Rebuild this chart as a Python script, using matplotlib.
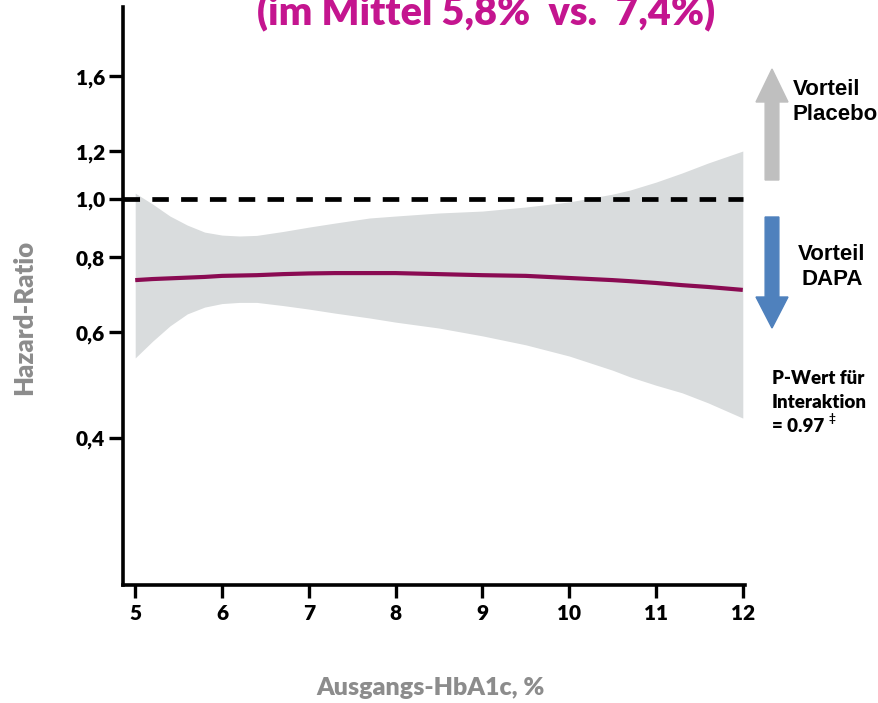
import matplotlib.pyplot as plt
from matplotlib.patches import FancyArrow

# HbA1c grid and hazard ratio curve with 95% CI band
hba1c = [5.0, 5.2, 5.4, 5.6, 5.8, 6.0, 6.2, 6.4, 6.7, 7.0, 7.3, 7.7, 8.0, 8.5,
         9.0, 9.5, 10.0, 10.5, 10.7, 11.0, 11.3, 11.6, 12.0]
hr = [0.733, 0.736, 0.738, 0.740, 0.742, 0.745, 0.746, 0.747, 0.750, 0.752, 0.753, 0.753,
      0.753, 0.750, 0.747, 0.745, 0.739, 0.733, 0.730, 0.725, 0.719, 0.714, 0.706]
ci_upper = [1.023, 0.981, 0.937, 0.905, 0.881, 0.871, 0.868, 0.870, 0.883, 0.898, 0.912, 0.930,
            0.937, 0.948, 0.955, 0.970, 0.989, 1.019, 1.035, 1.067, 1.105, 1.148, 1.202]
ci_lower = [0.544, 0.580, 0.615, 0.644, 0.661, 0.670, 0.673, 0.673, 0.665, 0.656, 0.646, 0.634,
            0.624, 0.610, 0.592, 0.572, 0.548, 0.519, 0.506, 0.490, 0.476, 0.458, 0.432]

x_ticks = [5, 6, 7, 8, 9, 10, 11, 12]
y_ticks = [0.4, 0.6, 0.8, 1.0, 1.2, 1.6]
y_labels = ['0,4', '0,6', '0,8', '1,0', '1,2', '1,6']

FONT = 'Lato'
GREY = '#8c8c8c'

fig = plt.figure(figsize=(8.79, 7.03), dpi=100)
ax = fig.add_axes([0.140, 0.168, 0.708, 0.822])

ax.fill_between(hba1c, ci_lower, ci_upper, color='#d9dcdd', linewidth=0, zorder=1)
ax.plot(hba1c, hr, color='#8a0b52', linewidth=3, solid_capstyle='butt', zorder=3)
ax.plot([4.86, 12], [1.0, 1.0], color='black', linewidth=3.4, dashes=(3.5, 2.6), zorder=2)

ax.set_yscale('log')
ax.set_xlim(4.86, 12.03)
ax.set_ylim(0.228, 2.087)
ax.minorticks_off()
ax.set_yticks(y_ticks)
ax.set_yticklabels(y_labels)
ax.set_xticks(x_ticks)
ax.set_xticklabels([str(t) for t in x_ticks])

for side in ['top', 'right']:
    ax.spines[side].set_visible(False)
for side in ['left', 'bottom']:
    ax.spines[side].set_linewidth(2.6)
ax.spines['bottom'].set_bounds(4.86, 12.03)

ax.tick_params(axis='y', length=10, width=2.4, pad=3)
ax.tick_params(axis='x', length=9, width=2.4, pad=5)
for lab in ax.get_xticklabels() + ax.get_yticklabels():
    lab.set_fontfamily(FONT)
    lab.set_fontweight('heavy')
    lab.set_fontsize(15)

fig.text(0.027, 0.548, 'Hazard-Ratio', rotation=90, ha='center', va='center',
         fontsize=18.5, fontweight='heavy', color=GREY, family=FONT)
fig.text(0.49, 0.021, 'Ausgangs-HbA1c, %', ha='center', va='center',
         fontsize=18, fontweight='heavy', color=GREY, family=FONT)

# title sits partly above the canvas
fig.text(0.5535, 0.964, '(im Mittel 5,8%  vs.  7,4%)', ha='center', va='baseline',
         fontsize=28.5, fontweight='heavy', color='#c4158f', family=FONT)

# direction arrows on the right
W, H = 879.0, 703.0
fig.patches.append(FancyArrow(772 / W, 1 - 180 / H, 0, (180 - 69) / H,
                              width=11 / H, head_width=32 / W, head_length=33 / H,
                              length_includes_head=True, color='#bfbfbf',
                              transform=fig.transFigure, figure=fig))
fig.patches.append(FancyArrow(772 / W, 1 - 217 / H, 0, -(328 - 217) / H,
                              width=11 / H, head_width=32 / W, head_length=31 / H,
                              length_includes_head=True, color='#4f81bd',
                              transform=fig.transFigure, figure=fig))

fig.text(793 / W, 1 - 102 / H, 'Vorteil\nPlacebo', ha='left', va='center',
         fontsize=16, fontweight='bold', family='Liberation Sans', linespacing=1.3)
fig.text(832 / W, 1 - 267 / H, 'Vorteil\nDAPA', ha='center', va='center',
         fontsize=16, fontweight='bold', family='Liberation Sans', linespacing=1.3)

fig.text(772 / W, 1 - 403 / H, 'P-Wert für\nInteraktion\n= 0.97', ha='left', va='center',
         fontsize=13.5, fontweight='heavy', family=FONT, linespacing=1.5)
fig.text(829 / W, 1 - 418 / H, '‡', ha='left', va='center',
         fontsize=8.5, fontweight='bold', family=['Lato', 'DejaVu Sans'])

fig.savefig('out.png', dpi=100)
